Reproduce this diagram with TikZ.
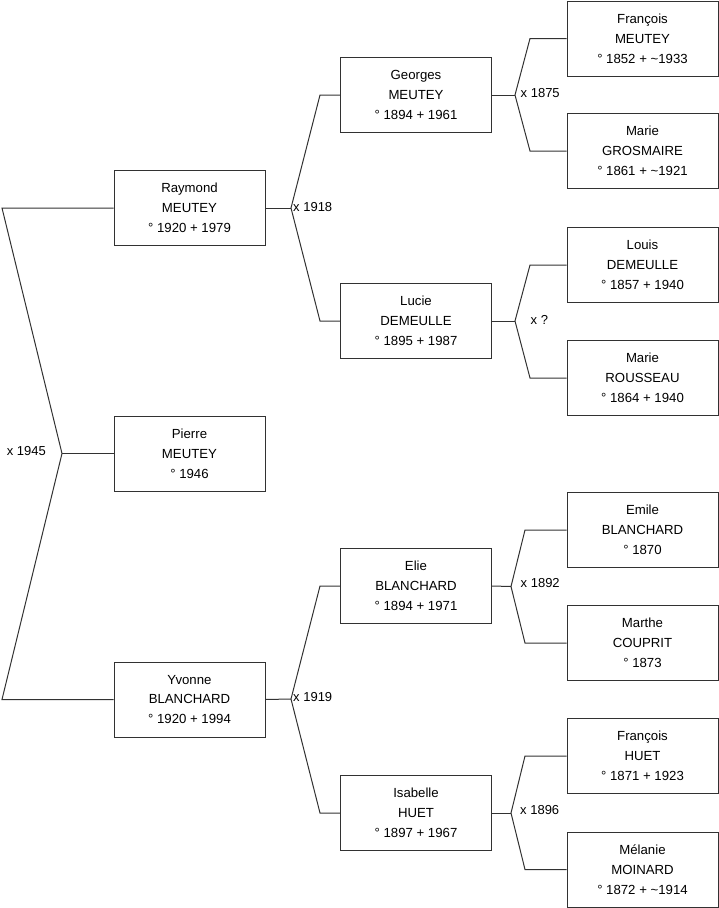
\documentclass[tikz,border=0pt]{standalone}
\usepackage{fontspec}
\setmainfont{Liberation Sans}
\definecolor{ln}{RGB}{50,50,50}
\begin{document}
\begin{tikzpicture}[x=1pt,y=-1pt,
  person/.style={draw=ln, line width=1pt, minimum width=151pt, minimum height=75pt,
    align=center, inner sep=0pt, font=\fontsize{13.2}{19.8}\selectfont, text=black},
  link/.style={draw=ln, line width=1pt},
  mlabel/.style={inner sep=0pt, font=\fontsize{13}{15}\selectfont, text=black}]
\useasboundingbox (0,0) rectangle (719,908);
% column 1
\node[person] (ray) at (189.5,208) {Raymond\\MEUTEY\\° 1920 + 1979};
\node[person] (pie) at (189.5,453.5) {Pierre\\MEUTEY\\° 1946};
\node[person] (yvo) at (189.5,699.5) {Yvonne\\BLANCHARD\\° 1920 + 1994};
% column 2
\node[person] (geo) at (416,95) {Georges\\MEUTEY\\° 1894 + 1961};
\node[person] (luc) at (416,321) {Lucie\\DEMEULLE\\° 1895 + 1987};
\node[person] (eli) at (416,586) {Elie\\BLANCHARD\\° 1894 + 1971};
\node[person] (isa) at (416,813) {Isabelle\\HUET\\° 1897 + 1967};
% column 3
\node[person] (fra) at (642.5,38.5) {François\\MEUTEY\\° 1852 + \textasciitilde1933};
\node[person] (mag) at (642.5,151) {Marie\\GROSMAIRE\\° 1861 + \textasciitilde1921};
\node[person] (lou) at (642.5,265) {Louis\\DEMEULLE\\° 1857 + 1940};
\node[person] (mar) at (642.5,378) {Marie\\ROUSSEAU\\° 1864 + 1940};
\node[person] (emi) at (642.5,530) {Emile\\BLANCHARD\\° 1870};
\node[person] (mat) at (642.5,643) {Marthe\\COUPRIT\\° 1873};
\node[person] (frh) at (642.5,756) {François\\HUET\\° 1871 + 1923};
\node[person] (mel) at (642.5,869.5) {Mélanie\\MOINARD\\° 1872 + \textasciitilde1914};
% junctions
\coordinate (j1945) at (62,453.5);
\coordinate (rt) at (2,208);
\coordinate (rb) at (2,699.5);
\coordinate (j1918) at (291,208);
\coordinate (j1919) at (291,699);
\coordinate (j1875) at (515,95);
\coordinate (jq) at (515,321);
\coordinate (j1892) at (511,586.5);
\coordinate (j1896) at (511,813);
% root
\draw[link] (ray.west) -- (rt) -- (j1945) -- (rb) -- (yvo.west);
\draw[link] (pie.west) -- (j1945);
% generation 2
\draw[link] (ray.east) -- (j1918);
\draw[link] (geo.west) -- ++(-20,0) -- (j1918) -- (320,321) -- (luc.west);
\draw[link] (yvo.east) -- (j1919);
\draw[link] (eli.west) -- ++(-20,0) -- (j1919) -- (320,813) -- (isa.west);
% generation 3
\draw[link] (geo.east) -- (j1875);
\draw[link] (fra.west) -- (530,38.5) -- (j1875) -- (530,151) -- (mag.west);
\draw[link] (luc.east) -- (jq);
\draw[link] (lou.west) -- (530,265) -- (jq) -- (530,378) -- (mar.west);
\draw[link] (eli.east) -- (j1892);
\draw[link] (emi.west) -- (525,530) -- (j1892) -- (525,643) -- (mat.west);
\draw[link] (isa.east) -- (j1896);
\draw[link] (frh.west) -- (525,756) -- (j1896) -- (525,869.5) -- (mel.west);
% marriage labels
\node[mlabel, anchor=east] (l1945) at (46,451.5) {x 1945};
\node[mlabel, anchor=west] (l1918) at (293,207) {x 1918};
\node[mlabel, anchor=west] (l1919) at (293,697.5) {x 1919};
\node[mlabel, anchor=west] (l1875) at (520.5,93) {x 1875};
\node[mlabel, anchor=west] (lq) at (530.5,320) {x ?};
\node[mlabel, anchor=west] (l1892) at (520.5,583) {x 1892};
\node[mlabel, anchor=west] (l1896) at (520,810) {x 1896};
\end{tikzpicture}
\end{document}
